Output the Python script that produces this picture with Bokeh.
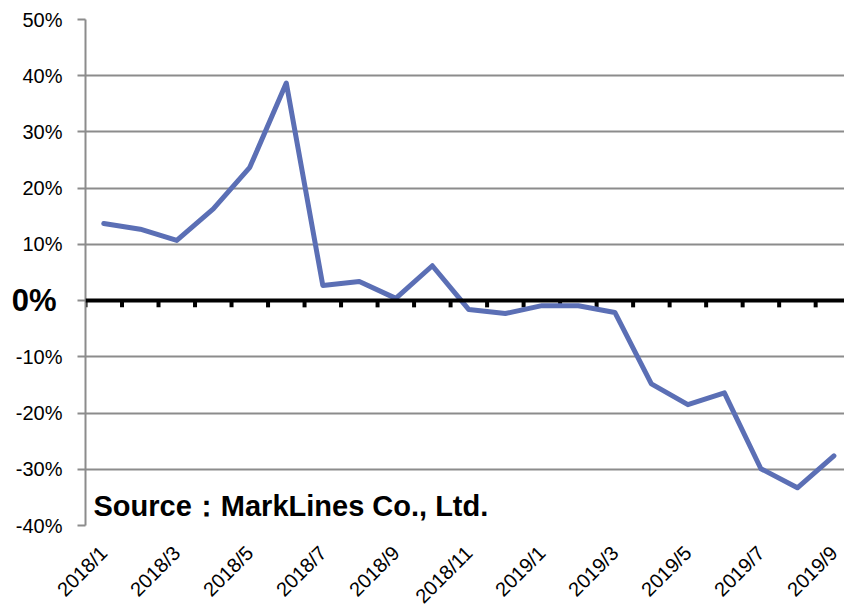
import math
from bokeh.plotting import figure
from bokeh.models import Range1d, FixedTicker, PrintfTickFormatter, Span, Label, LinearAxis
from bokeh.embed import file_html
from bokeh.resources import INLINE

# Monthly year-on-year change, percent
months = ["2018/1", "2018/2", "2018/3", "2018/4", "2018/5", "2018/6", "2018/7",
          "2018/8", "2018/9", "2018/10", "2018/11", "2018/12", "2019/1", "2019/2",
          "2019/3", "2019/4", "2019/5", "2019/6", "2019/7", "2019/8", "2019/9"]
growth = [13.7, 12.7, 10.7, 16.3, 23.7, 38.7, 2.7, 3.4, 0.4, 6.2, -1.6, -2.3,
          -0.9, -0.9, -2.1, -14.8, -18.5, -16.4, -29.9, -33.3, -27.6]
y_ticks = [-40, -30, -20, -10, 0, 10, 20, 30, 40, 50]
source_text = "Source：MarkLines Co., Ltd."

xs = list(range(len(months)))
FONT = "Liberation Sans"
GRID = "#8c8c8c"

p = figure(frame_width=759, frame_height=506,
           min_border_left=85, min_border_right=0, min_border_top=19, min_border_bottom=82,
           x_range=Range1d(-0.5, 20.29), y_range=Range1d(-40, 50),
           output_backend="svg", toolbar_location=None)
p.outline_line_color = None
p.background_fill_color = "white"
p.border_fill_color = "white"

# y axis (zero is labelled separately in bold)
p.yaxis.ticker = FixedTicker(ticks=y_ticks)
p.yaxis.formatter = PrintfTickFormatter(format="%d%%")
p.yaxis.major_label_overrides = {0: ""}
p.yaxis.axis_line_color = GRID
p.yaxis.axis_line_width = 2
p.yaxis.major_tick_line_color = GRID
p.yaxis.major_tick_line_width = 2
p.yaxis.major_tick_out = 8
p.yaxis.major_tick_in = 0
p.yaxis.minor_tick_line_color = None
p.yaxis.major_label_text_font = FONT
p.yaxis.major_label_text_font_size = "20px"
p.yaxis.major_label_text_color = "black"
p.yaxis.major_label_standoff = 15

# outer axis holding only the bold "0%", pulled back in beside the baseline
zero_axis = LinearAxis(ticker=FixedTicker(ticks=[0]),
                       formatter=PrintfTickFormatter(format="%d%%"),
                       axis_line_color=None, major_tick_line_color=None,
                       minor_tick_line_color=None, major_tick_out=0, major_tick_in=0,
                       major_label_text_font=FONT, major_label_text_font_size="31px",
                       major_label_text_font_style="bold", major_label_text_color="black",
                       major_label_standoff=-44)
p.add_layout(zero_axis, "left")

p.ygrid.ticker = FixedTicker(ticks=y_ticks)
p.ygrid.grid_line_color = GRID
p.ygrid.grid_line_width = 2
p.xgrid.visible = False

# x axis: every other month labelled
p.xaxis.ticker = FixedTicker(ticks=xs[::2])
p.xaxis.major_label_overrides = {i: months[i] for i in xs[::2]}
p.xaxis.axis_line_color = None
p.xaxis.major_tick_line_color = None
p.xaxis.minor_tick_line_color = None
p.xaxis.major_label_orientation = math.pi / 4
p.xaxis.major_label_text_font = FONT
p.xaxis.major_label_text_font_size = "20px"
p.xaxis.major_label_text_color = "black"
p.xaxis.major_label_standoff = 18

# zero baseline with category boundary ticks
p.add_layout(Span(location=0, dimension="width", line_color="black", line_width=4))
bounds = [i - 0.5 for i in xs]
p.segment(x0=bounds, y0=[0] * len(bounds), x1=bounds, y1=[-1.2] * len(bounds),
          line_color="black", line_width=4)

p.line(xs, growth, line_color="#5B6FB5", line_width=5, line_join="round", line_cap="round")

p.add_layout(Label(x=-0.5, y=-36.5, x_offset=8, text=source_text, text_align="left",
                   text_baseline="alphabetic", text_font=FONT, text_font_size="29px",
                   text_font_style="bold", text_color="black"))

open("out.html", "w").write(file_html(p, INLINE))
